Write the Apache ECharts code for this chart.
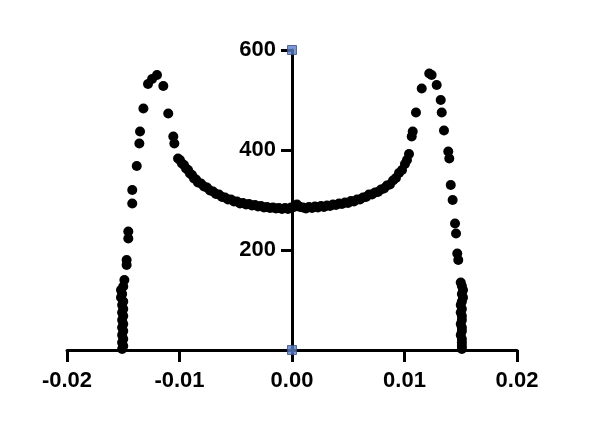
<!DOCTYPE html>
<html>
<head>
<meta charset="utf-8">
<script src="https://cdn.jsdelivr.net/npm/echarts@6/dist/echarts.min.js"></script>
<style>html,body{margin:0;padding:0;background:#fff;}#chart{width:610px;height:434px;}</style>
</head>
<body>
<div id="chart"></div>
<script>
// Axis ticks
var xTicks = [-0.02, -0.01, 0.00, 0.01, 0.02];
var yTicks = [200, 400, 600];

// Left edge cluster (x, y)
var leftClusterX = [-0.0151,-0.0150,-0.0151,-0.0150,-0.0151,-0.0150,-0.0151,-0.0150,-0.0151,-0.0150,-0.0151,-0.0150,-0.0151,-0.0150,-0.0152,-0.0151,-0.0152,-0.0150,-0.0149];
var leftClusterY = [2,8,15,22,30,38,45,52,60,68,75,82,90,97,105,112,120,127,140];

// Left peak (x, y)
var leftPeakX = [-0.0147,-0.0147,-0.01455,-0.01455,-0.0142,-0.0142,-0.0138,-0.01357,-0.01351,-0.01321,-0.0128,-0.01244,-0.0120,-0.01144,-0.0110,-0.01055,-0.01046];
var leftPeakY = [170,180,223,237,293,320,368,413,437,483,532,542,550,528,473,427,413];

// Central trough (x, y)
var midX = [-0.01013,-0.00996,-0.00978,-0.00960,-0.00942,-0.00924,-0.00907,-0.00889,-0.00871,-0.00853,-0.00836,-0.00809,-0.00782,-0.00756,-0.00729,-0.00702,-0.00676,-0.00649,-0.00622,-0.00596,-0.00569,-0.00542,-0.00516,-0.00489,-0.00462,-0.00436,-0.00409,-0.00382,-0.00356,-0.00329,-0.00302,-0.00276,-0.00249,-0.00222,-0.00196,-0.00169,-0.00142,-0.00116,-0.00089,-0.00062,-0.00036,-0.00009,0.00018,0.00044,0.00071,0.00098,0.00124,0.00151,0.00178,0.00204,0.00231,0.00258,0.00284,0.00311,0.00338,0.00364,0.00391,0.00418,0.00444,0.00471,0.00498,0.00524,0.00551,0.00578,0.00604,0.00631,0.00658,0.00684,0.00711,0.00738,0.00764,0.00791,0.00818,0.00844,0.00871,0.00898,0.00924,0.00951,0.00978,0.01004,0.01022,0.01040];
var midY = [383,380,373,370,363,360,353,350,343,341,335,333,327,325,319,317,312,311,306,305,301,301,297,297,293,294,291,292,289,290,287,288,285,286,284,285,283,284,282,284,282,285,286,291,286,285,283,286,284,287,285,288,286,289,288,291,290,293,292,295,294,298,297,301,301,305,306,311,311,315,316,321,323,329,331,339,344,354,360,372,380,392];

// Right peak (x, y)
var rightPeakX = [0.01064,0.01073,0.01102,0.01153,0.0122,0.01241,0.01286,0.01322,0.01331,0.01351,0.01389,0.01398,0.01411,0.01428,0.01449,0.01458,0.01469,0.01478];
var rightPeakY = [427,437,475,523,553,550,530,500,475,439,397,383,330,300,253,233,193,180];

// Right edge cluster (x, y)
var rightClusterX = [0.0150,0.0151,0.0152,0.0151,0.0152,0.0151,0.0150,0.0151,0.0150,0.0151,0.0151,0.0150,0.0151,0.0151,0.0150,0.0151,0.0151,0.0151,0.0151];
var rightClusterY = [135,128,120,112,105,97,90,82,75,68,60,52,45,38,30,22,15,8,2];

// Axis end markers (x, y)
var markerX = [0, 0];
var markerY = [0, 600];

function pairs(xs, ys) { return xs.map(function (x, i) { return [x, ys[i]]; }); }
var points = [].concat(
  pairs(leftClusterX, leftClusterY),
  pairs(leftPeakX, leftPeakY),
  pairs(midX, midY),
  pairs(rightPeakX, rightPeakY),
  pairs(rightClusterX, rightClusterY)
);

var font = 'Liberation Sans, Arial, sans-serif';
var gridLeft = 67, gridWidth = 450;
var chart = echarts.init(document.getElementById('chart'), null, {renderer: 'canvas'});
chart.setOption({
  animation: false,
  backgroundColor: '#ffffff',
  grid: {left: gridLeft, width: gridWidth, top: 50, bottom: 84, containLabel: false},
  xAxis: {
    type: 'value',
    min: xTicks[0], max: xTicks[xTicks.length - 1], interval: 0.01,
    splitLine: {show: false},
    axisLine: {show: true, onZero: false, lineStyle: {color: '#000', width: 3}},
    axisTick: {show: true, inside: false, length: 12, lineStyle: {color: '#000', width: 3}},
    axisLabel: {
      margin: 20, color: '#000', fontSize: 22, fontWeight: 'bold', fontFamily: font,
      formatter: function (v) { return v.toFixed(2); }
    }
  },
  yAxis: {
    type: 'value',
    position: 'left',
    offset: -gridWidth / 2,
    min: 0, max: yTicks[yTicks.length - 1], interval: 200,
    splitLine: {show: false},
    axisLine: {show: true, onZero: false, lineStyle: {color: '#000', width: 3}},
    axisTick: {show: true, inside: false, length: 11, lineStyle: {color: '#000', width: 3}},
    axisLabel: {
      margin: 16, color: '#000', fontSize: 22, fontWeight: 'bold', fontFamily: font,
      formatter: function (v) { return yTicks.indexOf(v) >= 0 ? String(v) : ''; }
    }
  },
  series: [
    {
      type: 'scatter',
      data: points,
      symbol: 'circle',
      symbolSize: 10,
      clip: false,
      itemStyle: {color: '#000', opacity: 1}
    },
    {
      type: 'scatter',
      data: pairs(markerX, markerY),
      symbol: 'rect',
      symbolSize: 9,
      clip: false,
      z: 5,
      itemStyle: {color: '#5b7ec4', borderColor: '#34508f', borderWidth: 1}
    }
  ]
});
</script>
</body>
</html>
